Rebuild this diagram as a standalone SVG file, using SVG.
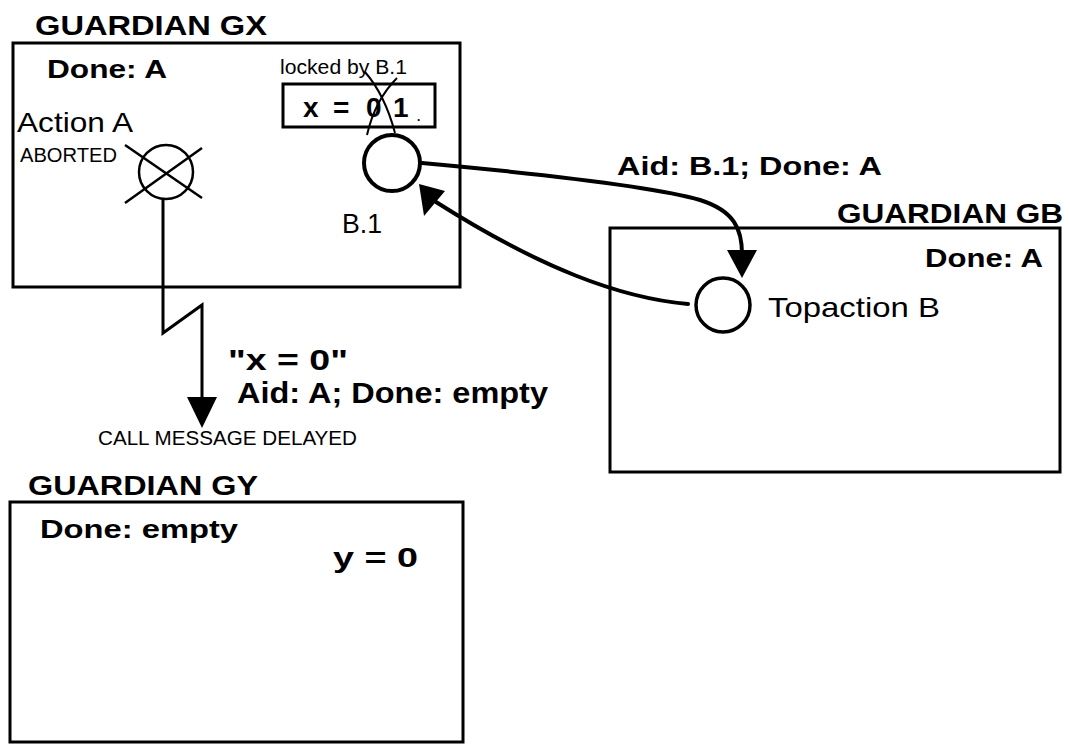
<svg xmlns="http://www.w3.org/2000/svg" width="1070" height="744" viewBox="0 0 1070 744">
<style>
text{font-family:"Liberation Sans",Arial,sans-serif;fill:#000}
.b{font-weight:bold}
.box{fill:none;stroke:#000;stroke-width:3}
.conn{fill:none;stroke:#000;stroke-width:4;stroke-linecap:round}
.thin{fill:none;stroke:#000;stroke-width:2.5}
</style>
<rect width="1070" height="744" fill="#fff"/>
<g id="guardian-gx">
<text class="b" x="35" y="35" font-size="28" textLength="232" lengthAdjust="spacingAndGlyphs">GUARDIAN GX</text>
<rect class="box" x="13" y="43" width="447" height="244"/>
<text class="b" x="47" y="78" font-size="26" textLength="120" lengthAdjust="spacingAndGlyphs">Done: A</text>
</g>
<g id="action-a">
<text x="17" y="132" font-size="28" textLength="116" lengthAdjust="spacingAndGlyphs">Action A</text>
<text x="20" y="162" font-size="20" textLength="97" lengthAdjust="spacingAndGlyphs">ABORTED</text>
<circle class="thin" cx="166" cy="172" r="27"/>
<line class="thin" x1="125" y1="145" x2="202" y2="198"/>
<line class="thin" x1="125" y1="203" x2="202" y2="148"/>
</g>
<g id="var-x">
<text x="280" y="74" font-size="20" textLength="127" lengthAdjust="spacingAndGlyphs">locked by B.1</text>
<rect class="box" x="283" y="84" width="152" height="43"/>
<text class="b" x="303" y="117" font-size="28">x</text>
<text class="b" x="333" y="117" font-size="28">=</text>
<text class="b" x="366" y="117" font-size="28">0</text>
<text class="b" x="393" y="117" font-size="28">1</text>
<text class="b" x="417" y="121" font-size="12">.</text>
<path fill="none" stroke="#000" stroke-width="2" d="M365,72 Q385,95 395,133"/>
<path fill="none" stroke="#000" stroke-width="2" d="M397,78 Q375,100 367,135"/>
</g>
<g id="b1">
<circle fill="#fff" stroke="#000" stroke-width="4" cx="392" cy="163" r="28"/>
<text x="342" y="233" font-size="28" textLength="40" lengthAdjust="spacingAndGlyphs">B.1</text>
</g>
<g id="guardian-gb">
<text class="b" x="837" y="223" font-size="28" textLength="226" lengthAdjust="spacingAndGlyphs">GUARDIAN GB</text>
<rect class="box" x="610" y="228" width="450" height="244"/>
<text class="b" x="925" y="267" font-size="26" textLength="118" lengthAdjust="spacingAndGlyphs">Done: A</text>
</g>
<g id="topaction-b">
<circle fill="#fff" stroke="#000" stroke-width="3.5" cx="723" cy="305" r="27"/>
<text x="768" y="317" font-size="28" textLength="172" lengthAdjust="spacingAndGlyphs">Topaction B</text>
</g>
<g id="guardian-gy">
<text class="b" x="28" y="495" font-size="28" textLength="230" lengthAdjust="spacingAndGlyphs">GUARDIAN GY</text>
<rect class="box" x="10" y="502" width="453" height="240"/>
<text class="b" x="40" y="538" font-size="26" textLength="198" lengthAdjust="spacingAndGlyphs">Done: empty</text>
<text class="b" x="333" y="567" font-size="27" textLength="85" lengthAdjust="spacingAndGlyphs">y = 0</text>
</g>
<g id="connectors">
<path class="conn" d="M422,163 C520,172 650,185 700,200 C735,211 742,230 742,254"/>
<polygon points="727,250 757,250 742,278" fill="#000"/>
<path class="conn" d="M688,304 C620,298 540,268 436,202"/>
<polygon points="419,184 445,191 424,216" fill="#000"/>
<path fill="none" stroke="#000" stroke-width="3" d="M163,198 L163,333 L202,305 L202,400"/>
<polygon points="187,397 217,397 202,428" fill="#000"/>
<text class="b" x="617" y="175" font-size="26" textLength="265" lengthAdjust="spacingAndGlyphs">Aid: B.1; Done: A</text>
<text class="b" x="228" y="370" font-size="30" textLength="120" lengthAdjust="spacingAndGlyphs">"x = 0"</text>
<text class="b" x="237" y="403" font-size="30" textLength="311" lengthAdjust="spacingAndGlyphs">Aid: A; Done: empty</text>
<text x="98" y="445" font-size="20" textLength="259" lengthAdjust="spacingAndGlyphs">CALL MESSAGE DELAYED</text>
</g>
</svg>
